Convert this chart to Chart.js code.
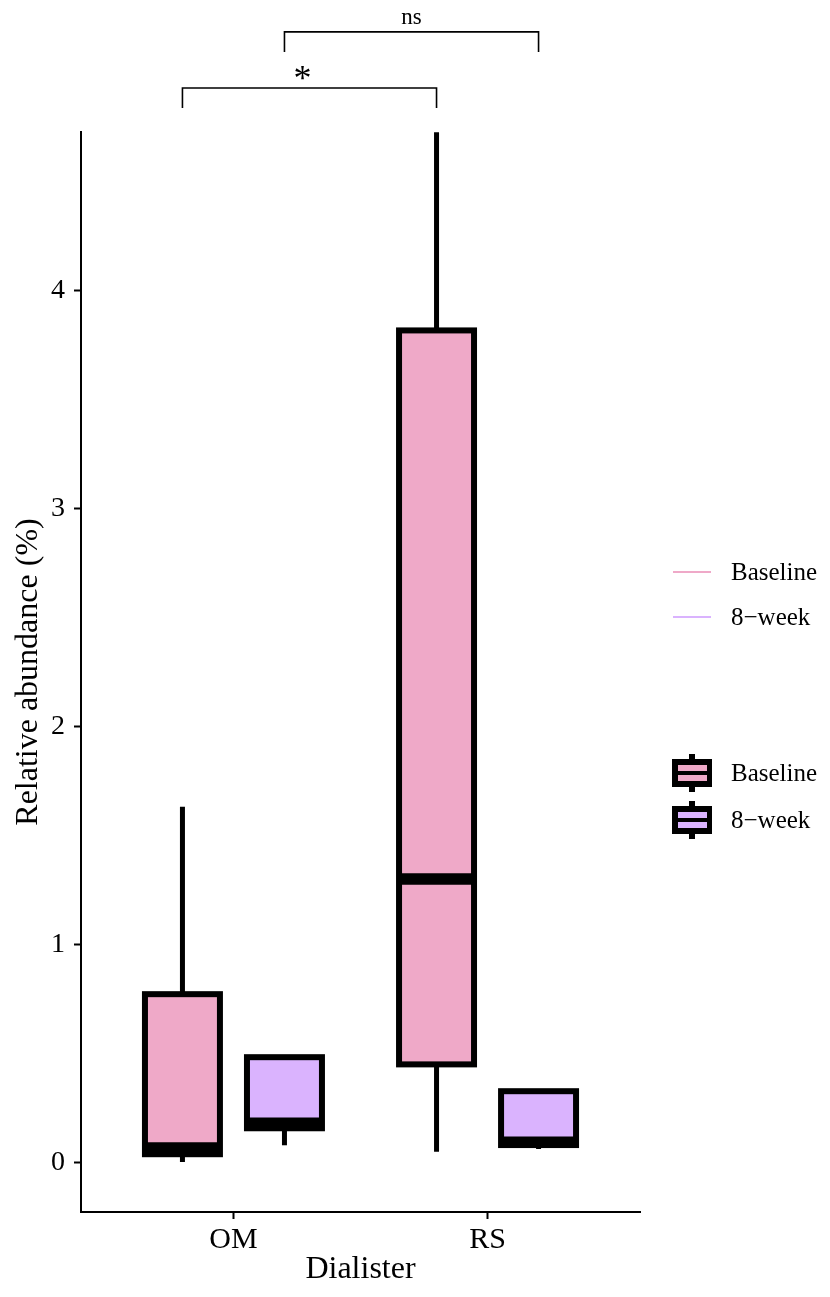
<!DOCTYPE html>
<html>
<head>
<meta charset="utf-8">
<script src="https://cdn.jsdelivr.net/npm/chart.js@4/dist/chart.umd.min.js"></script>
<style>
  html, body { margin: 0; padding: 0; background: #fff; }
  #wrap { width: 830px; height: 1297px; }
</style>
</head>
<body>
<div id="wrap"><canvas id="chart" width="830" height="1297"></canvas></div>
<script>
// categories and series
const categories = ['OM', 'RS'];
const seriesNames = ['Baseline', '8\u2212week'];
const seriesColors = ['#EFA9C8', '#DAB3FE'];

// box statistics (min, q1, median, q3, max)
const baselineMin = [0.002, 0.049];
const baselineQ1 = [0.038, 0.45];
const baselineMedian = [0.066, 1.30];
const baselineQ3 = [0.772, 3.816];
const baselineMax = [1.631, 4.725];

const week8Min = [0.079, 0.062];
const week8Q1 = [0.157, 0.080];
const week8Median = [0.180, 0.093];
const week8Q3 = [0.483, 0.327];
const week8Max = [0.483, 0.327];

// y ticks
const yTicks = [0, 1, 2, 3, 4];

// significance brackets: [category, series] at each end, label, bracket level, tip level
const sigLabels = ['*', 'ns'];
const sigStart = [[0, 0], [0, 1]];
const sigEnd = [[1, 0], [1, 1]];
const sigLevel = [4.928, 5.185];
const sigTip = [4.836, 5.093];

const stats = [
    { min: baselineMin, q1: baselineQ1, med: baselineMedian, q3: baselineQ3, max: baselineMax },
    { min: week8Min, q1: week8Q1, med: week8Median, q3: week8Q3, max: week8Max }
];

const FONT = '"Liberation Serif", "Times New Roman", serif';

// Рисуем усы, рамки, медианы, скобки и легенды
const boxPlugin = {
    id: 'boxParts',
    beforeDatasetsDraw(chart) {
        const ctx = chart.ctx;
        const y = chart.scales.y;
        ctx.save();
        ctx.strokeStyle = '#000';
        ctx.lineWidth = 5;
        ctx.lineCap = 'butt';
        stats.forEach((s, d) => {
            chart.getDatasetMeta(d).data.forEach((bar, i) => {
                ctx.beginPath();
                ctx.moveTo(bar.x, y.getPixelForValue(s.q3[i]));
                ctx.lineTo(bar.x, y.getPixelForValue(s.max[i]));
                ctx.moveTo(bar.x, y.getPixelForValue(s.q1[i]));
                ctx.lineTo(bar.x, y.getPixelForValue(s.min[i]));
                ctx.stroke();
            });
        });
        ctx.restore();
    },
    afterDatasetsDraw(chart) {
        const ctx = chart.ctx;
        const y = chart.scales.y;
        ctx.save();
        ctx.strokeStyle = '#000';
        ctx.lineJoin = 'miter';
        stats.forEach((s, d) => {
            chart.getDatasetMeta(d).data.forEach((bar, i) => {
                const l = bar.x - bar.width / 2;
                const r = bar.x + bar.width / 2;
                const m = y.getPixelForValue(s.med[i]);
                ctx.lineWidth = 11.5;
                ctx.beginPath();
                ctx.moveTo(l, m);
                ctx.lineTo(r, m);
                ctx.stroke();
                const top = y.getPixelForValue(s.q3[i]);
                const bot = y.getPixelForValue(s.q1[i]);
                ctx.lineWidth = 6;
                ctx.strokeRect(l, top, r - l, bot - top);
            });
        });
        ctx.restore();
    },
    afterDraw(chart) {
        const ctx = chart.ctx;
        const y = chart.scales.y;
        ctx.save();
        // скобки значимости
        ctx.strokeStyle = '#000';
        ctx.lineWidth = 1.6;
        ctx.fillStyle = '#000';
        ctx.textAlign = 'center';
        sigLabels.forEach((lab, k) => {
            const a = chart.getDatasetMeta(sigStart[k][1]).data[sigStart[k][0]];
            const b = chart.getDatasetMeta(sigEnd[k][1]).data[sigEnd[k][0]];
            const yl = y.getPixelForValue(sigLevel[k]);
            const yt = y.getPixelForValue(sigTip[k]);
            ctx.beginPath();
            ctx.moveTo(a.x, yt);
            ctx.lineTo(a.x, yl);
            ctx.lineTo(b.x, yl);
            ctx.lineTo(b.x, yt);
            ctx.stroke();
            ctx.textBaseline = 'alphabetic';
            if (lab === '*') {
                ctx.font = '36px ' + FONT;
                ctx.fillText(lab, (a.x + b.x) / 2 - 7, yl + 2);
            } else {
                ctx.font = '23px ' + FONT;
                ctx.fillText(lab, (a.x + b.x) / 2, yl - 8);
            }
        });

        // легенда с линиями
        ctx.textAlign = 'left';
        ctx.textBaseline = 'middle';
        ctx.font = '25px ' + FONT;
        const lineRows = [572, 617];
        seriesNames.forEach((name, k) => {
            ctx.strokeStyle = seriesColors[k];
            ctx.lineWidth = 2;
            ctx.beginPath();
            ctx.moveTo(673, lineRows[k]);
            ctx.lineTo(711, lineRows[k]);
            ctx.stroke();
            ctx.fillStyle = '#000';
            ctx.fillText(name, 731, lineRows[k] + 1);
        });

        // легенда с ящиками
        const boxRows = [773, 820];
        seriesNames.forEach((name, k) => {
            const cy = boxRows[k];
            ctx.fillStyle = '#000';
            ctx.fillRect(689, cy - 19, 6, 38);
            ctx.fillRect(672, cy - 14, 40, 28);
            ctx.fillStyle = seriesColors[k];
            ctx.fillRect(678, cy - 8, 29, 6);
            ctx.fillRect(678, cy + 2, 29, 6);
            ctx.fillStyle = '#000';
            ctx.fillText(name, 731, cy + 1);
        });
        ctx.restore();
    }
};

const datasets = stats.map((s, d) => ({
    label: seriesNames[d],
    data: categories.map((c, i) => ({ x: i + 1, y: [s.q1[i], s.q3[i]] })),
    backgroundColor: seriesColors[d],
    borderWidth: 0,
    categoryPercentage: 0.803,
    barPercentage: 0.735
}));

const ctx = document.getElementById('chart').getContext('2d');
new Chart(ctx, {
    type: 'bar',
    data: { datasets: datasets },
    options: {
        responsive: false,
        animation: false,
        layout: { padding: { left: 0, right: 190, top: 132, bottom: 0 } },
        plugins: { legend: { display: false }, tooltip: { enabled: false } },
        scales: {
            x: {
                type: 'linear',
                offset: false,
                min: 0.4,
                max: 2.6,
                afterBuildTicks: (scale) => { scale.ticks = categories.map((c, i) => ({ value: i + 1 })); },
                afterFit: (scale) => { scale.height = 85; },
                ticks: {
                    callback: (v) => categories[v - 1] || '',
                    color: '#000',
                    padding: 3,
                    font: { family: FONT, size: 30 }
                },
                grid: { offset: false, drawOnChartArea: false, drawTicks: true, tickLength: 7, tickWidth: 2, tickColor: '#000' },
                border: { display: true, color: '#000', width: 2 },
                title: { display: true, text: 'Dialister', color: '#000', font: { family: FONT, size: 32 }, padding: { top: 0, bottom: 8 } }
            },
            y: {
                min: -0.227,
                max: 4.726,
                afterBuildTicks: (scale) => { scale.ticks = yTicks.map(v => ({ value: v })); },
                afterFit: (scale) => { scale.width = 81; },
                ticks: {
                    color: '#000',
                    padding: 9,
                    font: { family: FONT, size: 28 }
                },
                grid: { drawOnChartArea: false, drawTicks: true, tickLength: 7, tickWidth: 2, tickColor: '#000' },
                border: { display: true, color: '#000', width: 2 },
                title: { display: true, text: 'Relative abundance (%)', color: '#000', font: { family: FONT, size: 32 }, padding: { top: 9, bottom: 0 } }
            }
        }
    },
    plugins: [boxPlugin]
});
</script>
</body>
</html>
